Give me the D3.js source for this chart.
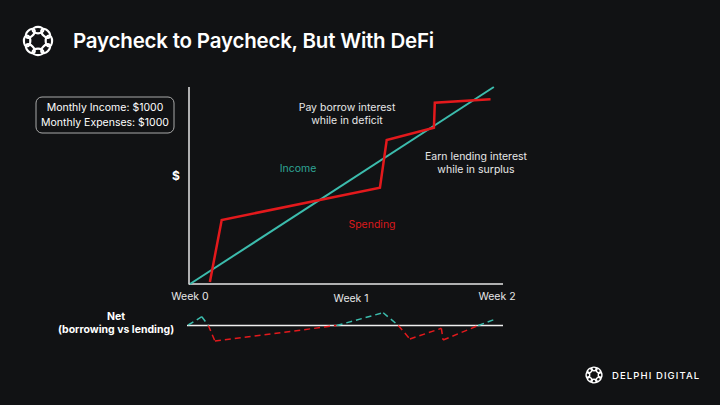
<!DOCTYPE html>
<html>
<head>
<meta charset="utf-8">
<script src="https://cdn.jsdelivr.net/npm/d3@7"></script>
<style>
  body { margin: 0; background: #111214; }
  svg { display: block; font-family: Inter, "Open Sans", sans-serif; }
</style>
</head>
<body>
<div class="chart"></div>
<script>
// chart data (x in days, y in $ units)
var incomeDays = [0, 13.9];
var incomeValues = [0, 100];

var spendDays = [0.91, 1.45, 8.69, 9.0, 11.16, 11.2, 13.75];
var spendValues = [1, 32.5, 48.9, 73.1, 79.3, 92.0, 93.8];

// net = income - spending (rough, in picture units)
var netDays = [-0.08, 0.54, 0.84, 1.14, 6.71, 8.84, 9.53, 10.06, 11.5, 11.58, 13.19, 13.95];
var netValues = [0.5, 8.8, 0, -15.5, 0, 12.8, 0, -13.5, -2.8, -14.5, 0, 6.2];

var weekTicks = [0, 7.37, 14];
var weekLabels = ["Week 0", "Week 1", "Week 2"];

var svgWidth = 720;
var svgHeight = 405;

var teal = "#3cbcad";
var red = "#e3191c";

var svg = d3.select(".chart")
  .append("svg")
  .attr("width", svgWidth)
  .attr("height", svgHeight);

svg.append("rect")
  .attr("width", svgWidth)
  .attr("height", svgHeight)
  .attr("fill", "#111214");

// scales
var x = d3.scaleLinear().domain([0, 14]).range([190, 496]);
var y = d3.scaleLinear().domain([0, 100]).range([284, 87]);
var yNet = d3.scaleLinear().domain([-20, 20]).range([345.5, 305.5]);

// logo: ring of interlinked loops
function drawLogo(g, r, sw) {
  var n = 8;
  for (var i = 0; i < n; i++) {
    var a = i * 2 * Math.PI / n;
    var cx = Math.cos(a) * r * 0.68;
    var cy = Math.sin(a) * r * 0.68;
    g.append("ellipse")
      .attr("cx", cx)
      .attr("cy", cy)
      .attr("rx", r * 0.34)
      .attr("ry", r * 0.2)
      .attr("transform", "rotate(" + (a * 180 / Math.PI + 90) + "," + cx + "," + cy + ")")
      .attr("fill", "none")
      .attr("stroke", "#fff")
      .attr("stroke-width", sw);
  }
}
drawLogo(svg.append("g").attr("transform", "translate(38,41)"), 16, 2.2);

// title
svg.append("text")
  .attr("x", 73)
  .attr("y", 48)
  .attr("fill", "#fff")
  .attr("font-size", "20.5px")
  .attr("font-weight", 600)
  .attr("letter-spacing", "-0.2px")
  .text("Paycheck to Paycheck, But With DeFi");

// info box
svg.append("rect")
  .attr("x", 36)
  .attr("y", 97)
  .attr("width", 138)
  .attr("height", 36)
  .attr("rx", 6)
  .attr("fill", "none")
  .attr("stroke", "#a9a9a9")
  .attr("stroke-width", 1);

svg.append("text")
  .attr("x", 105).attr("y", 111)
  .attr("text-anchor", "middle")
  .attr("fill", "#fff")
  .attr("font-size", "10.5px")
  .text("Monthly Income: $1000");
svg.append("text")
  .attr("x", 105).attr("y", 126)
  .attr("text-anchor", "middle")
  .attr("fill", "#fff")
  .attr("font-size", "10.5px")
  .text("Monthly Expenses: $1000");

svg.append("text")
  .attr("x", 176).attr("y", 180)
  .attr("text-anchor", "middle")
  .attr("fill", "#fff")
  .attr("font-size", "12px")
  .attr("font-weight", 700)
  .text("$");

// axes
svg.append("line")
  .attr("x1", 189).attr("x2", 189)
  .attr("y1", 87).attr("y2", 284.5)
  .attr("stroke", "#e6e6e6").attr("stroke-width", 1.5);
svg.append("line")
  .attr("x1", 189).attr("x2", 503)
  .attr("y1", 284).attr("y2", 284)
  .attr("stroke", "#e6e6e6").attr("stroke-width", 1.5);

svg.selectAll(".week")
  .data(weekTicks)
  .enter()
  .append("text")
  .attr("class", "week")
  .attr("x", d => x(d) + (d === 14 ? 1 : 0))
  .attr("y", (d, i) => i === 1 ? 302 : 300)
  .attr("text-anchor", "middle")
  .attr("fill", "#e8e8e8")
  .attr("font-size", "10.5px")
  .text((d, i) => weekLabels[i]);

// lines
var line = d3.line()
  .x(d => x(d[0]))
  .y(d => y(d[1]));

svg.append("path")
  .datum(d3.zip(incomeDays, incomeValues))
  .attr("d", line)
  .attr("fill", "none")
  .attr("stroke", teal)
  .attr("stroke-width", 2);

svg.append("path")
  .datum(d3.zip(spendDays, spendValues))
  .attr("d", line)
  .attr("fill", "none")
  .attr("stroke", red)
  .attr("stroke-width", 2.5)
  .attr("stroke-linejoin", "miter");

// annotations
function label(tx, ty, lines, color, size) {
  var t = svg.append("text")
    .attr("text-anchor", "middle")
    .attr("fill", color)
    .attr("font-size", size);
  lines.forEach(function(s, i) {
    t.append("tspan").attr("x", tx).attr("y", ty + i * 12.5).text(s);
  });
}
label(347, 111, ["Pay borrow interest", "while in deficit"], "#e8e8e8", "10.5px");
label(476, 160, ["Earn lending interest", "while in surplus"], "#e8e8e8", "10.5px");
label(298, 172, ["Income"], "#2fa596", "10.5px");
label(372, 228, ["Spending"], "#d9191c", "10.5px");

// net panel
svg.append("text")
  .attr("x", 116).attr("y", 320)
  .attr("text-anchor", "middle")
  .attr("fill", "#fff")
  .attr("font-size", "10.5px")
  .attr("font-weight", 700)
  .text("Net");
svg.append("text")
  .attr("x", 116).attr("y", 333)
  .attr("text-anchor", "middle")
  .attr("fill", "#fff")
  .attr("font-size", "10.5px")
  .attr("font-weight", 700)
  .text("(borrowing vs lending)");

svg.append("line")
  .attr("x1", 187).attr("x2", 503)
  .attr("y1", yNet(0)).attr("y2", yNet(0))
  .attr("stroke", "#f0f0f0").attr("stroke-width", 1.5);

var netPts = d3.zip(netDays, netValues);
var netLine = d3.line()
  .x(d => x(d[0]))
  .y(d => yNet(d[1]));

for (var i = 0; i < netPts.length - 1; i++) {
  var a = netPts[i], b = netPts[i + 1];
  var s = (a[1] + b[1]);
  svg.append("path")
    .datum([a, b])
    .attr("d", netLine)
    .attr("fill", "none")
    .attr("stroke", s >= 0 ? teal : red)
    .attr("stroke-width", 1.5)
    .attr("stroke-dasharray", "6,4");
}

// footer logo
drawLogo(svg.append("g").attr("transform", "translate(594,375)"), 9, 1.4);
svg.append("text")
  .attr("x", 612).attr("y", 379)
  .attr("fill", "#fff")
  .attr("font-size", "9.5px")
  .attr("font-weight", 500)
  .attr("letter-spacing", "1.1px")
  .text("DELPHI DIGITAL");
</script>
</body>
</html>
